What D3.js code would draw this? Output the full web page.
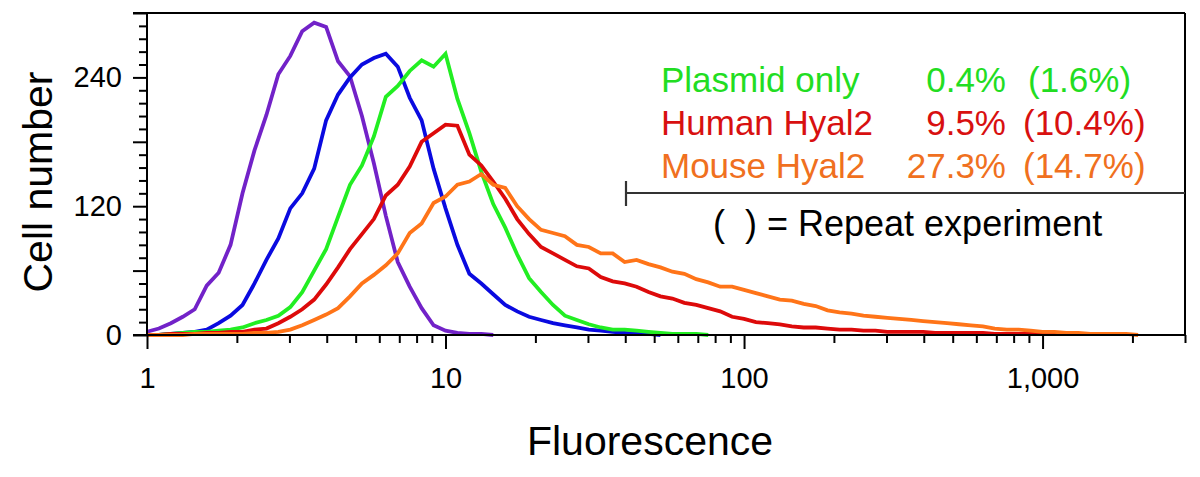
<!DOCTYPE html>
<html>
<head>
<meta charset="utf-8">
<script src="https://cdn.jsdelivr.net/npm/d3@7"></script>
<style>
  html, body { margin: 0; padding: 0; background: #fff; }
  svg { display: block; font-family: "Liberation Sans", Arial, sans-serif; }
</style>
</head>
<body>
<svg id="chart" width="1200" height="477"></svg>
<script>
// Fluorescence channel values (log-spaced bins)
const fluorescence = [1.000,1.096,1.202,1.318,1.445,1.585,1.738,1.905,2.089,2.291,
  2.512,2.754,3.020,3.311,3.631,3.981,4.365,4.786,5.248,5.754,
  6.310,6.918,7.586,8.318,9.120,10.00,10.96,12.02,13.18,14.45,
  15.85,17.38,19.05,20.89,22.91,25.12,27.54,30.20,33.11,36.31,
  39.81,43.65,47.86,52.48,57.54,63.10,69.18,75.86,83.18,91.20,
  100.0,109.6,120.2,131.8,144.5,158.5,173.8,190.5,208.9,229.1,
  251.2,275.4,302.0,331.1,363.1,398.1,436.5,478.6,524.8,575.4,
  631.0,691.8,758.6,831.8,912.0,1000,1096,1202,1318,1445,
  1585,1738,1905,2089];

// Cell counts per bin for each histogram
const purpleCounts = [3,6,11,17,24,46,58,84,132,172,
  205,243,260,283,291,287,255,241,204,160,
  111,68,45,25,9,4,2,1,1,0];
const blueCounts = [0,0,1,2,3,5,11,18,28,48,
  70,90,118,132,155,200,224,240,252,258,
  262,250,221,200,155,118,84,57,48,38,
  28,22,17,14,11,9,7,5,4,3,
  2,1,1,0];
const greenCounts = [0,0,1,2,3,3,4,5,7,11,
  14,18,26,40,60,80,110,140,158,185,
  222,232,246,256,250,262,220,188,152,122,
  100,75,53,40,28,18,14,10,7,5,
  5,4,3,2,1,1,1,0];
const redCounts = [0,0,1,1,1,2,2,3,3,5,
  6,11,17,24,33,47,63,80,94,108,
  130,140,157,180,188,196,195,168,158,143,
  127,108,94,82,76,70,64,62,54,50,
  48,45,40,36,34,30,28,25,22,17,
  15,12,11,10,8,7,7,6,5,5,
  4,4,3,3,3,3,2,2,2,2,
  2,1,1,1,1,1,1,1,1,1,
  1,1,1];
const orangeCounts = [0,0,0,0,1,1,1,1,1,2,
  2,3,5,9,14,19,25,36,48,56,
  65,76,95,104,123,129,140,143,150,140,
  137,120,108,98,95,92,84,82,76,76,
  68,70,66,63,59,57,52,49,45,45,
  42,39,36,33,32,29,27,23,21,20,
  18,17,16,15,14,13,12,11,10,9,
  8,6,5,5,4,3,3,2,2,1,
  1,1,1,0];

const seriesNames = ["Control", "Isotype", "Plasmid only", "Human Hyal2", "Mouse Hyal2"];
const seriesColors = ["#7222c8", "#0a0ae0", "#22ee22", "#dd0a0a", "#ff7418"];
const seriesCounts = [purpleCounts, blueCounts, greenCounts, redCounts, orangeCounts];

// Legend text
const legendLabels = ["Plasmid only", "Human Hyal2", "Mouse Hyal2"];
const legendPercent = ["0.4%", "9.5%", "27.3%"];
const legendRepeat = ["(1.6%)", "(10.4%)", "(14.7%)"];
const legendColors = ["#22dd22", "#d81010", "#f07020"];
const legendNote = "(  ) = Repeat experiment";

// Axes
const xTickValues = [1,2,3,4,5,6,7,8,9,10,20,30,40,50,60,70,80,90,
  100,200,300,400,500,600,700,800,900,1000,2000,3000];
const xLabelled = [1, 10, 100, 1000];
const yTickValues = [0,12,24,36,48,60,72,84,96,108,120,132,144,156,168,180,
  192,204,216,228,240,252,264,276,288,300];
const yLabelled = [0, 120, 240];
const xTitle = "Fluorescence";
const yTitle = "Cell number";

(function () {
const svg = d3.select("#chart");
const pLeft = 147, pRight = 1185, pTop = 13, pBottom = 335;

const x = d3.scaleLog().domain([1, 3000]).range([pLeft, pRight]);
const y = d3.scaleLinear().domain([0, 300]).range([pBottom, pTop]);

// Histograms
const line = d3.line()
  .x(d => x(d[0]))
  .y(d => y(d[1]))
  .curve(d3.curveLinear);

seriesCounts.forEach((counts, k) => {
  const pts = counts.map((c, i) => [fluorescence[i], c]);
  svg.append("path")
    .datum(pts)
    .attr("d", line)
    .attr("fill", "none")
    .attr("stroke", seriesColors[k])
    .attr("stroke-width", 3.8)
    .attr("stroke-linejoin", "miter");
});

// Frame
const frame = svg.append("g").attr("stroke", "#000").attr("stroke-width", 2);
frame.append("line").attr("x1", 133).attr("x2", pRight).attr("y1", pTop).attr("y2", pTop);
frame.append("line").attr("x1", 133).attr("x2", pRight).attr("y1", pBottom).attr("y2", pBottom);
frame.append("line").attr("x1", pLeft).attr("x2", pLeft).attr("y1", pTop).attr("y2", pBottom);
frame.append("line").attr("x1", pRight).attr("x2", pRight).attr("y1", pTop).attr("y2", pBottom);

// X axis
const xAxis = d3.axisBottom(x)
  .tickValues(xTickValues)
  .tickSize(14)
  .tickPadding(18)
  .tickFormat(d => xLabelled.includes(d) ? d3.format(",")(d) : "");
const gx = svg.append("g").attr("transform", `translate(0,${pBottom})`).call(xAxis);
gx.select(".domain").remove();
gx.selectAll(".tick line").attr("stroke", "#000").attr("stroke-width", 2)
  .attr("y2", d => xLabelled.includes(d) ? 14 : 8);
gx.selectAll(".tick text").attr("fill", "#000")
  .style("font-size", "29px").style("font-family", "'Liberation Sans', Arial, sans-serif");

// Y axis
const yAxis = d3.axisLeft(y)
  .tickValues(yTickValues)
  .tickSize(14)
  .tickPadding(11)
  .tickFormat(d => yLabelled.includes(d) ? d : "");
const gy = svg.append("g").attr("transform", `translate(${pLeft},0)`).call(yAxis);
gy.select(".domain").remove();
gy.selectAll(".tick line").attr("stroke", "#000").attr("stroke-width", 2)
  .attr("x2", d => d % 60 === 0 ? -14 : -8);
gy.selectAll(".tick text").attr("fill", "#000")
  .style("font-size", "29px").style("font-family", "'Liberation Sans', Arial, sans-serif");

// Axis titles
svg.append("text")
  .attr("x", 650).attr("y", 455)
  .attr("text-anchor", "middle")
  .style("font-size", "41px")
  .text(xTitle);
svg.append("text")
  .attr("transform", "translate(52,182) rotate(-90)")
  .attr("text-anchor", "middle")
  .style("font-size", "41px")
  .text(yTitle);

// Legend
const rowY = [92, 135, 178];
const parenX = [1028, 1023, 1023];
legendLabels.forEach((lab, i) => {
  svg.append("text").attr("x", 661).attr("y", rowY[i])
    .attr("fill", legendColors[i]).style("font-size", "35px").text(lab);
  svg.append("text").attr("x", 1006).attr("y", rowY[i]).attr("text-anchor", "end")
    .attr("fill", legendColors[i]).style("font-size", "35px").text(legendPercent[i]);
  svg.append("text").attr("x", parenX[i]).attr("y", rowY[i])
    .attr("fill", legendColors[i]).style("font-size", "35px").text(legendRepeat[i]);
});

// Gate marker line
const gate = svg.append("g").attr("stroke", "#333").attr("stroke-width", 2.2);
gate.append("line").attr("x1", 626).attr("x2", pRight).attr("y1", 193).attr("y2", 193);
gate.append("line").attr("x1", 626).attr("x2", 626).attr("y1", 181).attr("y2", 206);

svg.append("text").attr("x", 713).attr("y", 236)
  .attr("xml:space", "preserve")
  .style("white-space", "pre")
  .style("font-size", "36px").attr("fill", "#000")
  .text(legendNote);
})();
</script>
</body>
</html>
